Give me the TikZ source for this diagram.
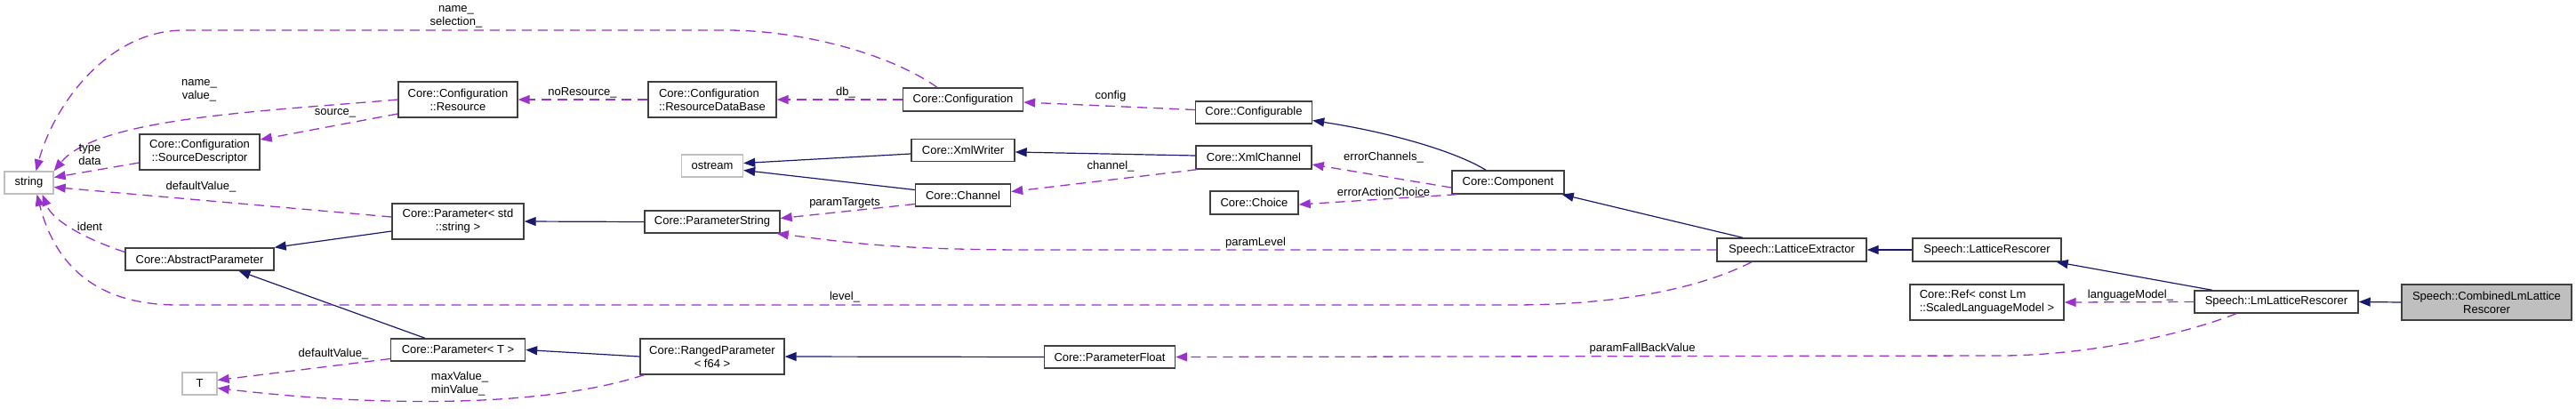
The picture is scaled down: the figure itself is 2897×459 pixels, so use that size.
\documentclass[tikz,border=0pt]{standalone}
\usepackage{fontspec}
\setmainfont{Liberation Sans}
\usetikzlibrary{arrows.meta}
\definecolor{navy}{HTML}{191970}
\definecolor{orchid}{HTML}{9A32CD}
\definecolor{extgrey}{HTML}{BFBFBF}
\newcommand{\lab}{\fontsize{13}{15}\selectfont}
\tikzset{
  box/.style={draw=black!75, line width=1.4pt, fill=white, inner sep=0pt, font=\lab, align=center},
  extbox/.style={box, draw=extgrey},
  inh/.style={draw=navy, line width=1.2pt, -{Triangle[length=13pt,width=10pt]}},
  use/.style={draw=orchid, line width=1.3pt, dash pattern=on 11pt off 7pt, -{Triangle[length=13pt,width=10pt]}},
  lbl/.style={font=\lab, inner sep=0pt, align=center},
}
\begin{document}
\begin{tikzpicture}[x=1pt,y=-1pt]
\useasboundingbox (0,0) rectangle (2897,459);
% nodes
\node[extbox, minimum width=55pt, minimum height=25pt] (str) at (32.5,205.5) {string};
\node[box, minimum width=134pt, minimum height=40pt] (res) at (515,112) {Core::Configuration\\::Resource};
\node[box, minimum width=135pt, minimum height=40pt] (sd) at (224.5,171) {Core::Configuration\\::SourceDescriptor};
\node[box, minimum width=148pt, minimum height=40pt] (pstd) at (515,249) {Core::Parameter< std\\::string >};
\node[box, minimum width=167pt, minimum height=25pt] (ap) at (224.5,291.5) {Core::AbstractParameter};
\node[box, minimum width=151pt, minimum height=25pt] (pt) at (515,393.5) {Core::Parameter< T >};
\node[extbox, minimum width=39pt, minimum height=25pt] (t) at (224.5,431.5) {T};
\node[box, minimum width=144pt, minimum height=40pt, align=left] (rdb) at (801,112) {Core::Configuration\\::ResourceDataBase};
\node[box, minimum width=135pt, minimum height=26pt] (cfg) at (1083,112) {Core::Configuration};
\node[extbox, minimum width=69pt, minimum height=25pt] (os) at (801,186.5) {ostream};
\node[box, minimum width=116pt, minimum height=25pt] (xw) at (1083,169) {Core::XmlWriter};
\node[box, minimum width=107pt, minimum height=25pt] (ch) at (1083,219.5) {Core::Channel};
\node[box, minimum width=152pt, minimum height=25pt] (ps) at (801,249.5) {Core::ParameterString};
\node[box, minimum width=162pt, minimum height=40pt] (rp) at (801,401) {Core::RangedParameter\\< f64 >};
\node[box, minimum width=131pt, minimum height=25pt] (cfgb) at (1410,126.5) {Core::Configurable};
\node[box, minimum width=130pt, minimum height=26pt] (xc) at (1410,177) {Core::XmlChannel};
\node[box, minimum width=99pt, minimum height=26pt] (cho) at (1410.5,228) {Core::Choice};
\node[box, minimum width=126pt, minimum height=26pt] (cmp) at (1696,205) {Core::Component};
\node[box, minimum width=147pt, minimum height=25pt] (pf) at (1248,401.5) {Core::ParameterFloat};
\node[box, minimum width=168pt, minimum height=26pt] (le) at (2015,281) {Speech::LatticeExtractor};
\node[box, minimum width=167pt, minimum height=26pt] (lr) at (2234.5,281) {Speech::LatticeRescorer};
\node[box, minimum width=173pt, minimum height=40pt, align=left] (ref) at (2234.5,340) {Core::Ref< const Lm\\::ScaledLanguageModel >};
\node[box, minimum width=184pt, minimum height=25pt] (lm) at (2560,339.5) {Speech::LmLatticeRescorer};
\node[box, fill=extgrey, minimum width=191pt, minimum height=40pt] (comb) at (2796.5,340) {Speech::CombinedLmLattice\\Rescorer};
% inheritance edges
\draw[inh] ([yshift=-11pt]pstd.west) -- (ap.north east);
\draw[inh] ([xshift=-37pt]pt.north) -- ([xshift=44pt]ap.south);
\draw[inh] (ps.west) -- (pstd.east);
\draw[inh] (rp.west) -- (pt.east);
\draw[inh] (pf.west) -- (rp.east);
\draw[inh] ([yshift=-4pt]xw.west) -- ([yshift=3pt]os.east);
\draw[inh] ([yshift=6pt]ch.west) -- ([yshift=-5pt]os.east);
\draw[inh] ([yshift=2pt]xc.west) -- ([yshift=-2pt]xw.east);
\draw[inh] ([xshift=-25pt]cmp.north) .. controls (1640,172) and (1570,150) .. ([yshift=-9pt]cfgb.east);
\draw[inh] ([xshift=-55pt]le.north) -- ([xshift=-3pt]cmp.south east);
\draw[inh] (lr.west) -- (le.east);
\draw[inh] ([xshift=-72pt]lm.north) -- ([xshift=-6pt]lr.south east);
\draw[inh] (comb.west) -- (lm.east);
% usage edges
\draw[use] ([xshift=-29pt]cfg.north) .. controls (1000,60) and (900,34) .. (817,34) -- (207,34) .. controls (120,34) and (60,120) .. ([xshift=8pt]str.north);
\node[lbl] (la) at (513,19) {name\_\\selection\_};
\draw[use] (res.west) .. controls (300,125) and (110,132) .. (str.north east);
\node[lbl] (lb) at (224,101.5) {name\_\\value\_};
\draw[use] ([yshift=-16pt]res.west) -- ([yshift=14pt]sd.east);
\node[lbl] (lc) at (377,127) {source\_};
\draw[use] ([yshift=-12pt]sd.west) -- ([yshift=6pt]str.east);
\node[lbl] (ld) at (101,173.5) {type\\data};
\draw[use] ([yshift=5pt]pstd.west) -- ([yshift=-5pt]str.east);
\node[lbl] (le1) at (226,210.5) {defaultValue\_};
\draw[use] ([yshift=8pt]ap.west) .. controls (100,270) and (60,250) .. ([xshift=15pt]str.south);
\node[lbl] (lf) at (101,255) {ident};
\draw[use] ([xshift=-45pt]le.south) .. controls (1900,330) and (1800,343) .. (1700,343) -- (200,343) .. controls (100,343) and (60,290) .. ([xshift=9pt]str.south);
\node[lbl] (lg) at (950,334) {level\_};
\draw[use] (le.west) -- (1160,281) .. controls (1000,281) and (950,272) .. ([xshift=-4pt]ps.south east);
\node[lbl] (lpl) at (1412,273) {paramLevel};
\draw[use] ([yshift=-10pt]ch.west) -- ([yshift=4pt]ps.east);
\node[lbl] (lh) at (950,228) {paramTargets};
\draw[use] ([xshift=2pt]xc.south west) -- ([yshift=4pt]ch.east);
\node[lbl] (li) at (1249,187) {channel\_};
\draw[use] ([yshift=3pt]cfgb.west) -- ([yshift=-3pt]cfg.east);
\node[lbl] (lj) at (1249,108) {config};
\draw[use] (cfg.west) -- (rdb.east);
\node[lbl] (lk) at (951,104) {db\_};
\draw[use] (rdb.west) -- (res.east);
\node[lbl] (ll) at (655,104) {noResource\_};
\draw[use] ([yshift=-6pt]cmp.west) -- ([yshift=-8pt]xc.east);
\node[lbl] (lm1) at (1556,177) {errorChannels\_};
\draw[use] ([xshift=6pt]cmp.south west) -- ([yshift=-2pt]cho.east);
\node[lbl] (ln) at (1556,216) {errorActionChoice};
\draw[use] ([xshift=5pt]rp.south west) .. controls (600,462) and (400,455) .. ([yshift=-5pt]t.east);
\node[lbl, align=left] (lo) at (517,432) {maxValue\_\\minValue\_};
\draw[use] ([yshift=-10pt]pt.west) -- ([yshift=4pt]t.east);
\node[lbl] (lp) at (375,398) {defaultValue\_};
\draw[use] (lm.west) -- (ref.east);
\node[lbl] (lq) at (2396,332) {languageModel\_};
\draw[use] ([xshift=-45pt]lm.south) .. controls (2440,382) and (2330,400) .. (2250,400) -- (pf.east);
\node[lbl] (lr1) at (1847,392) {paramFallBackValue};
\end{tikzpicture}
\end{document}
